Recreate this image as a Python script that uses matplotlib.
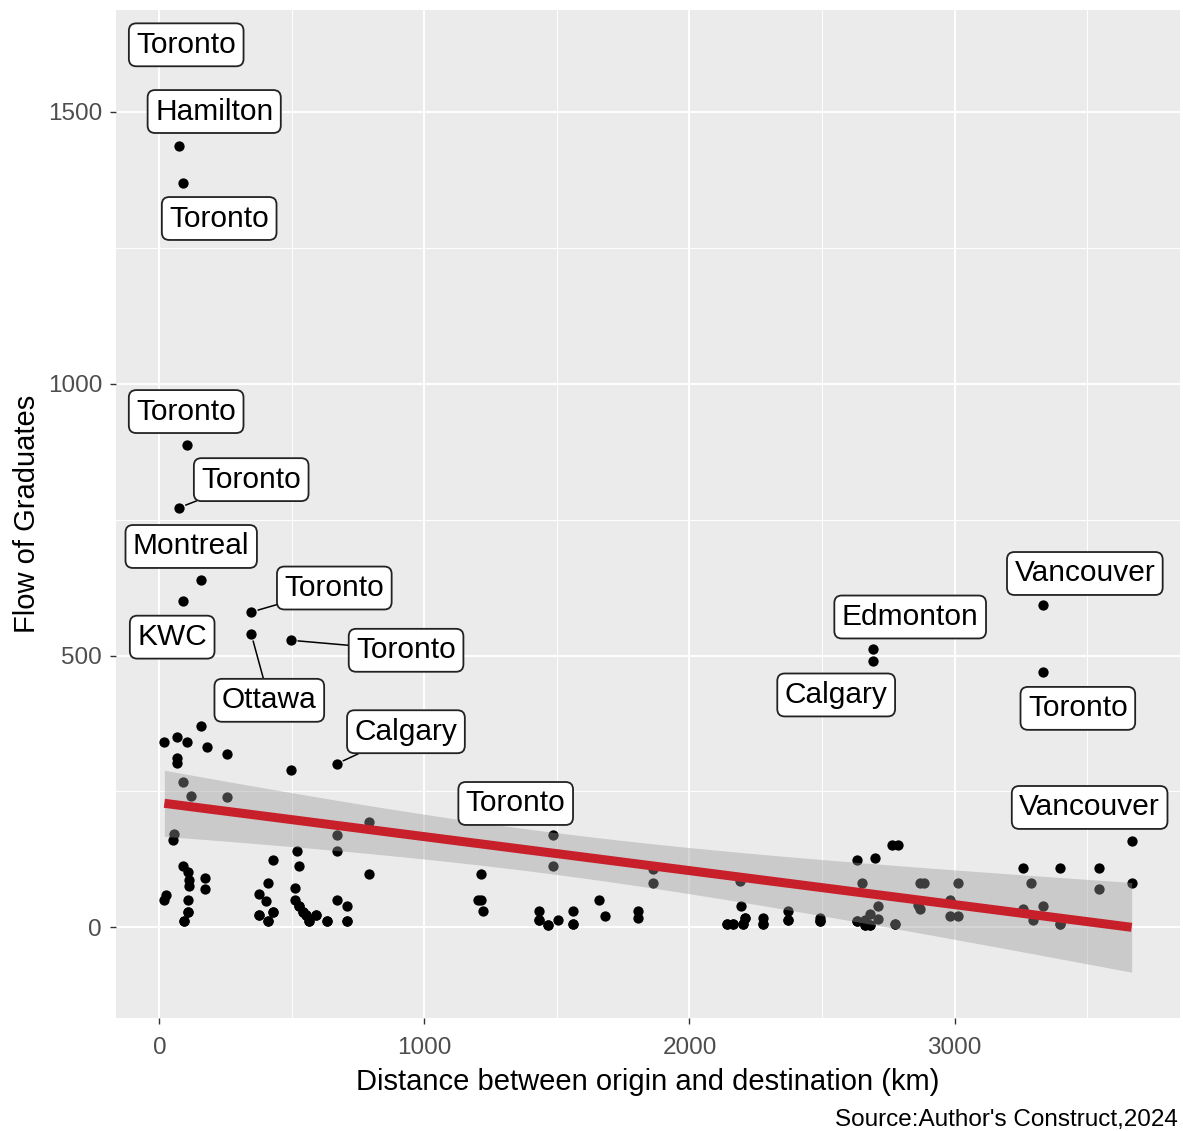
import numpy as np
import matplotlib
matplotlib.use("Agg")
import matplotlib.pyplot as plt
from matplotlib.ticker import MultipleLocator

# points sans etiquette (distance km, flux)
dist = [158, 19, 68, 105, 181, 256, 68, 68, 497, 90, 120, 256, 56, 53, 670, 791, 520, 670, 429, 527,
        791, 90, 109, 113, 113, 173, 173, 411, 26, 19, 109, 109, 94, 377, 403, 429, 377, 411, 512, 512,
        527, 542, 554, 565, 591, 633, 670, 708, 708,
        1213, 1202, 1213, 1220, 1431, 1431, 1465, 1503, 1559, 1559, 1484, 1657, 1680, 1804, 1804, 1864, 1864,
        2196, 2143, 2165, 2203, 2211, 2279, 2279, 2373, 2373, 2493, 2493, 2192,
        2633, 2701, 2765, 2788, 2652, 2712, 2682, 2663, 2633, 2682, 2712, 2776, 2663,
        2870, 2885, 3013, 2870, 2863, 2983, 3013, 2983,
        3258, 3397, 3544, 3668, 3288, 3544, 3333, 3258, 3296, 3397]
flow = [370, 341, 350, 341, 332, 319, 312, 303, 290, 268, 242, 240, 171, 160, 169, 193, 141, 141, 123, 112,
        99, 112, 101, 88, 77, 90, 70, 81, 59, 50, 50, 29, 11, 61, 48, 29, 22, 11, 72, 50,
        40, 29, 22, 11, 22, 11, 50, 40, 11,
        99, 50, 50, 31, 31, 13, 4, 13, 31, 7, 112, 50, 20, 31, 18, 81, 108,
        40, 7, 7, 7, 17, 18, 7, 31, 13, 18, 11, 86,
        123, 128, 152, 152, 81, 40, 24, 13, 11, 4, 15, 7, 4,
        81, 81, 81, 33, 42, 20, 20, 50,
        110, 110, 110, 81, 81, 70, 40, 33, 13, 6]

# observations superposees dans les amas denses (cachees sous d'autres points)
dup_dist = [109, 94, 377, 411, 429, 527, 542, 554, 565, 591, 633, 708,
            1431, 1465, 1559, 2143, 2165, 2203, 2211, 2279, 2373, 2493, 2633, 2663, 2682, 2776, 3397]
dup_flow = [29, 11, 22, 11, 29, 40, 29, 22, 11, 22, 11, 11,
            13, 4, 7, 7, 7, 7, 17, 7, 13, 11, 11, 4, 4, 7, 6]

# points etiquetes
cities = ["Toronto", "Hamilton", "Toronto", "Toronto", "Toronto", "Montreal", "KWC", "Toronto",
          "Ottawa", "Toronto", "Calgary", "Toronto", "Edmonton", "Calgary", "Vancouver", "Toronto",
          "Vancouver"]
lab_dist = [75, 75, 90, 105, 75, 158, 90, 347, 347, 497, 670, 1484, 2693, 2693, 3333, 3333, 3668]
lab_flow = [1603, 1438, 1370, 888, 772, 638, 600, 580, 539, 528, 301, 169, 512, 490, 592, 469, 158]

# placement des etiquettes (decalage en pixels, y vers le bas) et segment visible
lab_offset = [(7, -11), (35, -34), (36, 36), (-1, -33), (72, -28), (-10, -34), (-11, 36), (83, -24),
              (18, 66), (115, 10), (69, -32), (-37, -32), (37, -32), (-37, 34), (42, -32), (35, 36),
              (-42, -34)]
lab_segment = [False, False, False, False, True, False, False, True, True, True, True,
               False, False, False, False, False, False]

plt.rcParams['font.family'] = ['Liberation Sans', 'DejaVu Sans']

x = np.array(dist + dup_dist + lab_dist, dtype=float)
y = np.array(flow + dup_flow + lab_flow, dtype=float)

fig = plt.figure(figsize=(11.83, 11.31), dpi=100)
ax = fig.add_axes([116 / 1183, 1 - 1018 / 1131, 1064 / 1183, 1008 / 1131])
ax.set_facecolor("#EBEBEB")
for s in ax.spines.values():
    s.set_visible(False)

ax.scatter(x, y, s=55, color="black", linewidths=0, zorder=2)

# regression lineaire + intervalle de confiance 95%
n = len(x)
b, a = np.polyfit(x, y, 1)
xs = np.linspace(x.min(), x.max(), 80)
ys = a + b * xs
resid = y - (a + b * x)
s_err = np.sqrt(np.sum(resid ** 2) / (n - 2))
sxx = np.sum((x - x.mean()) ** 2)
se = s_err * np.sqrt(1 / n + (xs - x.mean()) ** 2 / sxx)
t = 1.976
ax.fill_between(xs, ys - t * se, ys + t * se, color="#999999", alpha=0.4, linewidth=0, zorder=3)
ax.plot(xs, ys, color="#C8202A", linewidth=6.5, zorder=4, solid_capstyle="butt")

for i, city in enumerate(cities):
    dx, dy = lab_offset[i]
    arrow = None
    if lab_segment[i]:
        arrow = dict(arrowstyle="-", color="black", lw=1.1, shrinkA=0, shrinkB=5)
    ax.annotate(city, xy=(lab_dist[i], lab_flow[i]), xytext=(dx, -dy), textcoords="offset pixels",
                ha="center", va="center", fontsize=21.5, color="black", zorder=6,
                bbox=dict(boxstyle="round,pad=0.25,rounding_size=0.25", fc="white", ec="#222222", lw=1.3),
                arrowprops=arrow)

# echelles a la ggplot (expansion 5%)
xr = x.max() - x.min()
ax.set_xlim(x.min() - 0.05 * xr, x.max() + 0.05 * xr)
ylo = min(y.min(), (ys - t * se).min())
yhi = max(y.max(), (ys + t * se).max())
yr = yhi - ylo
ax.set_ylim(ylo - 0.05 * yr, yhi + 0.05 * yr)

ax.xaxis.set_major_locator(MultipleLocator(1000))
ax.xaxis.set_minor_locator(MultipleLocator(500))
ax.yaxis.set_major_locator(MultipleLocator(500))
ax.yaxis.set_minor_locator(MultipleLocator(250))
ax.grid(which="major", color="white", linewidth=1.4)
ax.grid(which="minor", color="white", linewidth=0.7)
ax.set_axisbelow(True)
ax.tick_params(which="major", length=4, width=1, color="#333333", labelsize=17.5, labelcolor="#4D4D4D")
ax.tick_params(axis="x", pad=10)
ax.tick_params(axis="y", pad=6)
ax.tick_params(which="minor", length=0)

ax.set_xlabel("Distance between origin and destination (km)", fontsize=21, color="black", labelpad=6)
ax.set_ylabel("Flow of Graduates", fontsize=21, color="black", labelpad=5)
fig.text(1178 / 1183, 1 - 1120 / 1131, "Source:Author's Construct,2024", ha="right", va="center",
         fontsize=17.5, color="black")

fig.savefig("out.png", dpi=100)
